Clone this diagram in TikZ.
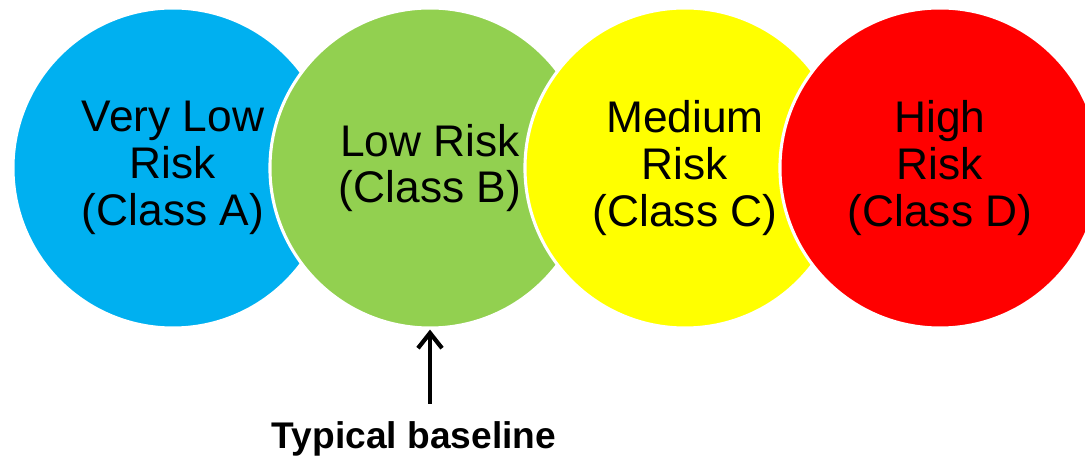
\documentclass[tikz,border=0pt]{standalone}
\usepackage{fontspec}
\setmainfont{Liberation Sans}
\usetikzlibrary{arrows.meta}
\definecolor{riskblue}{HTML}{00B0F0}
\definecolor{riskgreen}{HTML}{92D050}
\definecolor{riskyellow}{HTML}{FFFF00}
\definecolor{riskred}{HTML}{FF0000}

\begin{document}
\begin{tikzpicture}[x=0.025cm,y=-0.025cm]
\useasboundingbox (0,0) rectangle (1085,457);
\clip (0,0) rectangle (1085,457);
\begin{scope}[every node/.style={circle,draw=white,line width=2.2pt,minimum size=8cm,inner sep=0pt,align=center,font=\fontsize{31.5}{33.2}\selectfont}]
\node[fill=riskblue] (A) at (173,168) {Very Low\\Risk\\(Class A)};
\node[fill=riskgreen] (B) at (430,168) {Low Risk\\(Class B)};
\node[fill=riskyellow] (C) at (685,168) {Medium\\Risk\\(Class C)};
\node[fill=riskred] (D) at (940,168) {High\\Risk\\(Class D)};
\end{scope}

\node[anchor=base,font=\bfseries\fontsize{26.4}{28}\selectfont] (base) at (414,449) {Typical baseline};

\draw[line width=3pt, black, -{Straight Barb[length=3.8mm,width=6mm]}, shorten <=0.33cm] (base.north -| B.south) -- (B.south);
\end{tikzpicture}
\end{document}
